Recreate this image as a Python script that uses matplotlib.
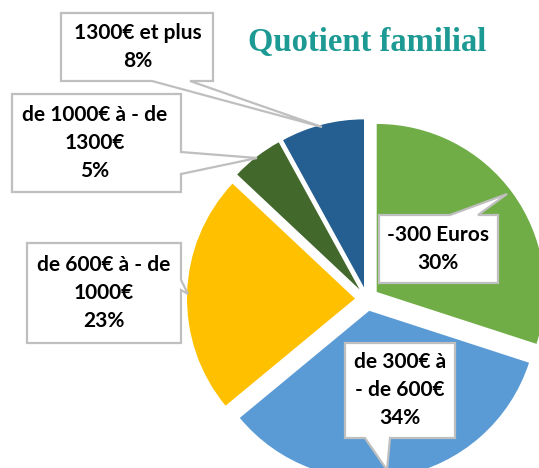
import matplotlib
matplotlib.use("Agg")
import matplotlib.pyplot as plt
from matplotlib.patches import Polygon

# Répartition des familles par tranche de quotient familial
categories = ["-300 Euros", "de 300€ à - de 600€", "de 600€ à - de 1000€",
              "de 1000€ à - de 1300€", "1300€ et plus"]
shares = [30, 34, 23, 5, 8]
label_lines = [
    ["-300 Euros"],
    ["de 300€ à", "- de 600€"],
    ["de 600€ à - de", "1000€"],
    ["de 1000€ à - de", "1300€"],
    ["1300€ et plus"],
]
colors = ["#70AD47", "#5B9BD5", "#FFC000", "#43682B", "#255E91"]

W, H = 539, 468
fig = plt.figure(figsize=(W / 100, H / 100), dpi=100)
ax = fig.add_axes([0, 0, 1, 1])


def fy(y):
    return H - y


ax.pie(shares, colors=colors, startangle=90, counterclock=False,
       center=(367, fy(299)), radius=168, explode=[12] * len(shares),
       wedgeprops=dict(linewidth=0))
ax.set_xlim(0, W)
ax.set_ylim(0, H)
ax.set_aspect("equal")
ax.axis("off")

# callout boxes: (left, top, right, bottom), tail side, tail span, tail tip, text centre
callouts = [
    ((379, 215, 498, 283), "top", (450, 478), (507, 194), 438),
    ((345, 343, 455, 438), "bottom", (365, 390), (387, 470), 400),
    ((27, 243, 181, 343), "right", (280, 290), (188, 294), 104),
    ((12, 94, 181, 192), "right", (152, 174), (257, 158), 95),
    ((61, 13, 213, 81), "bottom", (152, 190), (322, 127), 138),
]


def callout_vertices(box, side, span, tip):
    l, t, r, b = box
    a, c = span
    if side == "top":
        pts = [(l, t), (a, t), tip, (c, t), (r, t), (r, b), (l, b)]
    elif side == "bottom":
        pts = [(l, t), (r, t), (r, b), (c, b), tip, (a, b), (l, b)]
    else:  # right
        pts = [(l, t), (r, t), (r, a), tip, (r, c), (r, b), (l, b)]
    return [(x, fy(y)) for x, y in pts]


for lines, pct, (box, side, span, tip, cx) in zip(label_lines, shares, callouts):
    ax.add_patch(Polygon(callout_vertices(box, side, span, tip), closed=True,
                         facecolor="white", edgecolor="#BFBFBF", linewidth=1.6,
                         joinstyle="miter", zorder=5))
    text = "\n".join(lines + [f"{pct}%"])
    l, t, r, b = box
    ax.text(cx, fy((t + b) / 2), text, ha="center", va="center",
            fontsize=15, fontweight="bold", family="Lato",
            linespacing=1.5, color="black", zorder=6)

ax.text(367, fy(43), "Quotient familial", ha="center", va="center",
        fontsize=23.5, fontweight="bold", family="Liberation Serif",
        color="#1E9A94")

fig.savefig("out.png", dpi=100)
